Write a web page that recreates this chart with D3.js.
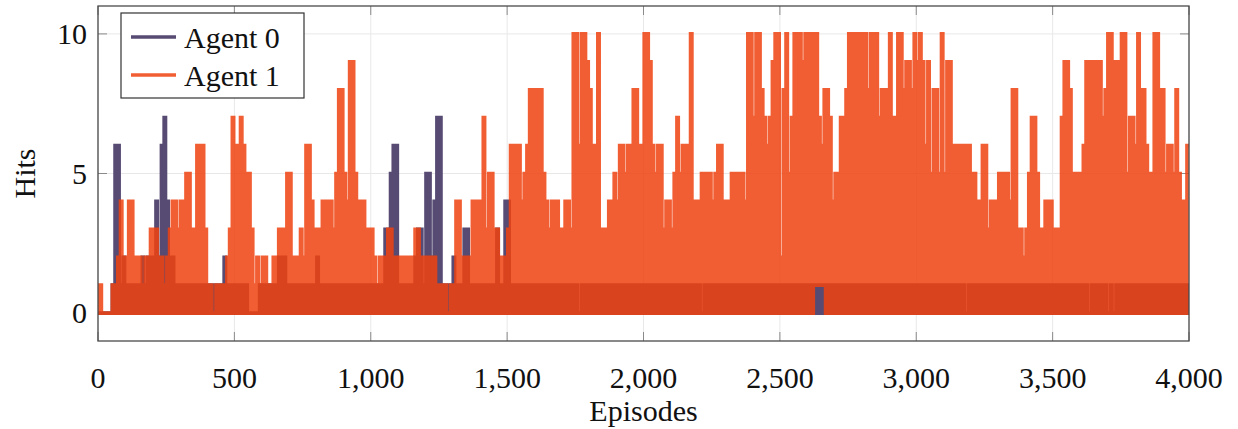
<!DOCTYPE html>
<html>
<head>
<meta charset="utf-8">
<script src="https://cdn.jsdelivr.net/npm/d3@7"></script>
<style>
  body { margin: 0; background: #fff; }
</style>
</head>
<body>
<div id="chart"></div>
<script>
const width = 1238;
const height = 429;

// one value every 5 episodes, 0..4000
const episodeStep = 5;
const seriesNames = ["Agent 0", "Agent 1"];
const xTicks = [0, 500, 1000, 1500, 2000, 2500, 3000, 3500, 4000];
const yTicks = [0, 5, 10];

const agent0Hits = [
  0,0,0,0,0,0,0,0,0,0,0,1,0,6,0,6,0,1,0,2,
  0,1,0,1,0,1,0,1,0,1,0,1,0,2,0,1,0,2,0,2,
  0,2,0,4,0,2,0,6,0,7,0,4,0,2,0,2,0,1,0,1,
  0,1,0,1,0,1,0,1,0,1,0,1,0,1,0,1,0,1,0,1,
  0,1,0,1,0,1,0,1,0,1,0,1,0,2,0,1,0,1,0,1,
  0,1,0,1,0,1,0,1,0,1,0,0,0,0,0,0,0,0,0,1,
  0,1,0,1,0,1,0,1,0,1,0,1,0,2,0,2,0,2,0,1,
  0,1,0,1,0,1,0,1,0,1,0,1,0,1,0,1,0,1,0,1,
  0,2,0,1,0,1,0,1,0,1,0,1,0,1,0,1,0,1,0,1,
  0,1,0,1,0,1,0,1,0,1,0,1,0,1,0,1,0,1,0,1,
  0,1,0,1,0,1,0,1,0,1,0,3,0,3,0,5,0,6,0,6,
  0,1,0,1,0,1,0,1,0,1,0,1,0,2,0,3,0,3,0,1,
  0,5,0,5,0,2,0,4,0,7,0,7,0,1,0,1,0,1,0,1,
  0,2,0,1,0,1,0,1,0,3,0,3,0,1,0,1,0,1,0,1,
  0,1,0,1,0,1,0,1,0,1,0,1,0,3,0,1,0,1,0,4,
  0,4,0,1,0,1,0,1,0,1,0,1,0,1,0,1,0,1,0,1,
  0,1,0,1,0,1,0,1,0,1,0,1,0,1,0,1,0,1,0,1,
  0,1,0,1,0,1,0,1,0,1,0,1,0,0,0,1,0,1,0,1,
  0,1,0,1,0,1,0,1,0,1,0,1,0,1,0,1,0,1,0,1,
  0,1,0,1,0,1,0,1,0,1,0,1,0,1,0,1,0,1,0,1,
  0,1,0,1,0,1,0,1,0,1,0,1,0,1,0,1,0,1,0,1,
  0,1,0,1,0,1,0,1,0,1,0,1,0,1,0,1,0,1,0,1,
  0,1,0,0,0,1,0,1,0,1,0,1,0,1,0,1,0,1,0,1,
  0,1,0,1,0,1,0,1,0,1,0,1,0,1,0,1,0,1,0,1,
  0,1,0,1,0,1,0,1,0,1,0,1,0,1,0,1,0,1,0,1,
  0,1,0,1,0,1,0,1,0,1,0,1,0,1,0,1,0,1,0,1,
  0,1,0,1,0,1,0,1,0,1,0,1,0,1,0,1,0,1,0,1,
  0,1,0,1,0,1,0,1,0,1,0,1,0,1,0,1,0,1,0,1,
  0,1,0,1,0,1,0,1,0,1,0,1,0,1,0,1,0,1,0,1,
  0,1,0,1,0,1,0,1,0,1,0,1,0,1,0,1,0,1,0,1,
  0,1,0,1,0,1,0,1,0,1,0,1,0,1,0,1,0,1,0,1,
  0,1,0,1,0,1,0,1,0,1,0,1,0,1,0,1,0,0,0,1,
  0,1,0,1,0,1,0,1,0,1,0,1,0,1,0,1,0,1,0,1,
  0,1,0,1,0,1,0,1,0,1,0,1,0,1,0,1,0,1,0,1,
  0,1,0,1,0,1,0,1,0,1,0,1,0,1,0,1,0,1,0,1,
  0,1,0,1,0,1,0,1,0,1,0,1,0,1,0,1,0,1,0,1,
  0,1,0,1,0,1,0,0,0,1,0,1,0,1,0,1,0,1,0,1,
  0,0,0,1,0,0,0,1,0,1,0,1,0,1,0,1,0,1,0,1,
  0,1,0,1,0,1,0,1,0,1,0,1,0,1,0,1,0,1,0,1,
  0,1,0,1,0,1,0,1,0,1,0,1,0,1,0,1,0,1,0,1,
  0
];

const agent1Hits = [
  0,1,1,0,0,0,0,0,0,0,0,1,0,1,0,2,0,4,0,2,
  0,2,0,4,0,4,0,2,0,2,0,2,0,1,0,2,0,2,0,3,
  0,3,0,3,0,2,0,2,0,1,0,2,0,3,0,4,0,4,0,3,
  0,4,0,4,0,5,0,5,0,3,0,3,0,6,0,6,0,6,0,3,
  0,1,0,1,0,0,0,1,0,1,0,1,0,1,0,2,0,3,0,7,
  0,6,0,6,0,7,0,6,0,5,0,5,0,3,0,1,0,2,0,1,
  0,2,0,2,0,1,0,1,0,2,0,2,0,3,0,3,0,3,0,5,
  0,5,0,2,0,2,0,2,0,3,0,2,0,6,0,6,0,4,0,3,
  0,3,0,3,0,4,0,4,0,4,0,4,0,3,0,5,0,8,0,8,
  0,5,0,4,0,9,0,9,0,5,0,4,0,4,0,4,0,3,0,3,
  0,3,0,2,0,1,0,2,0,2,0,2,0,3,0,3,0,2,0,2,
  0,2,0,2,0,2,0,2,0,2,0,2,0,3,0,3,0,2,0,2,
  0,2,0,2,0,2,0,2,0,1,0,1,0,1,0,1,0,0,0,1,
  0,1,0,4,0,4,0,2,0,2,0,2,0,2,0,4,0,4,0,4,
  0,4,0,7,0,3,0,5,0,5,0,3,0,3,0,2,0,2,0,2,
  0,3,0,6,0,6,0,6,0,6,0,4,0,5,0,6,0,8,0,8,
  0,8,0,8,0,8,0,5,0,4,0,3,0,4,0,4,0,4,0,3,
  0,3,0,4,0,4,0,3,0,10,0,10,0,6,0,10,0,10,0,9,
  0,8,0,6,0,6,0,10,0,3,0,3,0,3,0,4,0,4,0,5,
  0,4,0,6,0,6,0,5,0,6,0,6,0,8,0,8,0,6,0,6,
  0,10,0,10,0,9,0,6,0,5,0,6,0,6,0,3,0,4,0,4,
  0,3,0,5,0,7,0,5,0,6,0,6,0,6,0,10,0,4,0,4,
  0,4,0,5,0,5,0,5,0,5,0,4,0,5,0,6,0,6,0,4,
  0,4,0,4,0,5,0,5,0,5,0,5,0,5,0,4,0,10,0,10,
  0,7,0,10,0,10,0,8,0,7,0,6,0,7,0,9,0,10,0,10,
  0,2,0,8,0,10,0,5,0,7,0,10,0,10,0,10,0,9,0,10,
  0,10,0,10,0,10,1,10,1,7,1,6,1,8,0,8,0,7,0,4,
  0,5,0,5,0,7,0,7,0,8,0,10,0,10,0,10,0,10,0,10,
  0,10,0,10,0,8,0,10,0,10,0,10,0,7,0,8,0,8,0,8,
  0,10,0,7,0,7,0,10,0,10,0,8,0,9,0,9,0,8,0,10,
  0,9,0,10,0,9,0,6,0,9,0,5,0,8,0,8,0,5,0,10,
  0,5,0,9,0,9,0,6,0,6,0,6,0,6,0,6,0,6,0,6,
  0,5,0,5,0,4,0,4,0,6,0,6,0,3,0,4,0,4,0,4,
  0,5,0,5,0,5,0,5,0,4,0,8,0,8,0,3,0,3,0,2,
  0,3,0,5,0,7,0,7,0,5,0,3,0,3,0,4,0,4,0,4,
  0,3,0,3,0,3,0,7,0,9,0,9,0,8,0,5,0,5,0,5,
  0,5,0,6,0,9,0,9,0,9,0,9,0,9,0,9,0,7,0,8,
  0,10,0,10,0,9,0,9,0,9,0,10,0,10,0,5,0,7,0,7,
  0,6,0,10,0,8,0,8,0,6,0,5,0,5,0,10,0,10,0,8,
  0,8,0,5,0,6,0,6,0,5,0,8,0,5,0,4,0,4,0,6,
  6
];

const colors = ["#574b73", "#f0420f"];
const serifFont = "'Liberation Serif', 'Times New Roman', Tinos, 'DejaVu Serif', 'Noto Serif', serif";

const plotLeft = 98, plotRight = 1189, plotTop = 6, plotBottom = 341;

const svg = d3.select("#chart")
  .append("svg")
  .attr("width", width)
  .attr("height", height)
  .attr("font-family", serifFont);

const x = d3.scaleLinear().domain([0, 4000]).range([plotLeft, plotRight]);
const y = d3.scaleLinear().domain([-1, 11]).range([plotBottom, plotTop]);

svg.append("defs").append("clipPath")
  .attr("id", "plot-clip")
  .append("rect")
  .attr("x", plotLeft).attr("y", plotTop)
  .attr("width", plotRight - plotLeft).attr("height", plotBottom - plotTop);

// grid
const grid = svg.append("g").attr("stroke", "#e8e8e8").attr("stroke-width", 1);
grid.selectAll(".gx").data(xTicks).join("line")
  .attr("x1", d => x(d)).attr("x2", d => x(d))
  .attr("y1", plotTop).attr("y2", plotBottom);
grid.selectAll(".gy").data(yTicks).join("line")
  .attr("x1", plotLeft).attr("x2", plotRight)
  .attr("y1", d => y(d)).attr("y2", d => y(d));

// tick marks on all four sides
const tickLen = 9;
const ticks = svg.append("g").attr("stroke", "#8a8a8a").attr("stroke-width", 1);
xTicks.forEach(t => {
  ticks.append("line").attr("x1", x(t)).attr("x2", x(t)).attr("y1", plotBottom).attr("y2", plotBottom - tickLen);
  ticks.append("line").attr("x1", x(t)).attr("x2", x(t)).attr("y1", plotTop).attr("y2", plotTop + tickLen);
});
yTicks.forEach(t => {
  ticks.append("line").attr("x1", plotLeft).attr("x2", plotLeft + tickLen).attr("y1", y(t)).attr("y2", y(t));
  ticks.append("line").attr("x1", plotRight).attr("x2", plotRight - tickLen).attr("y1", y(t)).attr("y2", y(t));
});

const line = d3.line()
  .x((d, i) => x(i * episodeStep))
  .y(d => y(d))
  .curve(d3.curveStep);

const plot = svg.append("g").attr("clip-path", "url(#plot-clip)");

plot.append("path")
  .datum(agent0Hits)
  .attr("d", line)
  .attr("fill", "none")
  .attr("stroke", colors[0])
  .attr("stroke-width", 3.6);

plot.append("path")
  .datum(agent1Hits)
  .attr("d", line)
  .attr("fill", "none")
  .attr("stroke", colors[1])
  .attr("stroke-opacity", 0.85)
  .attr("stroke-width", 3.6);

// frame
svg.append("rect")
  .attr("x", plotLeft).attr("y", plotTop)
  .attr("width", plotRight - plotLeft).attr("height", plotBottom - plotTop)
  .attr("fill", "none")
  .attr("stroke", "#4a4a4a")
  .attr("stroke-width", 1.3);

// tick labels
const fmt = d3.format(",");
svg.append("g").selectAll("text").data(xTicks).join("text")
  .attr("x", d => x(d))
  .attr("y", 388)
  .attr("text-anchor", "middle")
  .attr("font-size", 30)
  .attr("fill", "#111")
  .text(d => fmt(d));

svg.append("g").selectAll("text").data(yTicks).join("text")
  .attr("x", 87)
  .attr("y", d => y(d) + 10)
  .attr("text-anchor", "end")
  .attr("font-size", 30)
  .attr("fill", "#111")
  .text(d => d);

// axis titles
svg.append("text")
  .attr("x", (plotLeft + plotRight) / 2)
  .attr("y", 421)
  .attr("text-anchor", "middle")
  .attr("font-size", 30)
  .attr("fill", "#111")
  .text("Episodes");

svg.append("text")
  .attr("transform", `translate(35, ${(plotTop + plotBottom) / 2}) rotate(-90)`)
  .attr("text-anchor", "middle")
  .attr("font-size", 30)
  .attr("fill", "#111")
  .text("Hits");

// legend
const legend = svg.append("g");
legend.append("rect")
  .attr("x", 121).attr("y", 13)
  .attr("width", 183).attr("height", 85)
  .attr("fill", "#fff")
  .attr("stroke", "#333")
  .attr("stroke-width", 1.2);

seriesNames.forEach((name, i) => {
  const ly = 37 + i * 38;
  legend.append("line")
    .attr("x1", 131).attr("x2", 176)
    .attr("y1", ly).attr("y2", ly)
    .attr("stroke", colors[i])
    .attr("stroke-opacity", i === 1 ? 0.85 : 1)
    .attr("stroke-width", 3.6);
  legend.append("text")
    .attr("x", 184)
    .attr("y", ly + 11)
    .attr("font-size", 30)
    .attr("fill", "#111")
    .text(name);
});
</script>
</body>
</html>
